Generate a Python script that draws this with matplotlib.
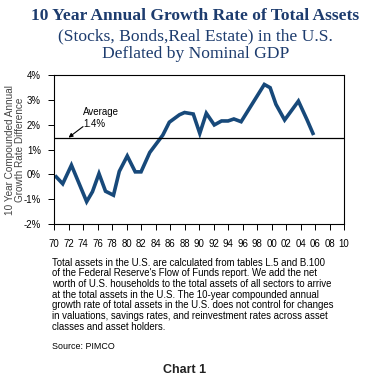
import matplotlib.pyplot as plt
from matplotlib.ticker import FixedLocator

# values (year, % difference)
years = [1970.3, 1971.2, 1972.4, 1974.5, 1975.3, 1976.2, 1977.1, 1978.2, 1979.0,
         1980.1, 1981.2, 1982.0, 1983.2, 1985.0, 1985.9, 1987.3, 1988.0, 1989.2,
         1990.1, 1991.0, 1992.1, 1993.1, 1994.0, 1994.8, 1995.8, 1999.0, 1999.8,
         2000.6, 2001.8, 2003.7, 2004.9, 2005.7]
growth = [-0.10, -0.38, 0.37, -1.10, -0.70, 0.03, -0.68, -0.84, 0.12,
          0.74, 0.10, 0.10, 0.88, 1.58, 2.10, 2.40, 2.49, 2.43,
          1.65, 2.46, 1.99, 2.15, 2.15, 2.23, 2.12, 3.62, 3.49,
          2.82, 2.19, 2.95, 2.19, 1.65]
average = 1.48
x_ticks = list(range(1970, 2011, 2))
x_labels = ["%02d" % (y % 100) for y in x_ticks]
y_ticks = [-2, -1, 0, 1, 2, 3, 4]
y_labels = ["%d%%" % v for v in y_ticks]

navy = "#17497a"
title_col = "#1d3c6e"
sans = "Liberation Sans"
serif = "Liberation Serif"

fig = plt.figure(figsize=(3.7, 3.82), dpi=100)
ax = fig.add_axes([0.146, 0.4136, 0.784, 0.39])

ax.plot(years, growth, color=navy, lw=2.6, solid_joinstyle="miter")
ax.axhline(average, color="black", lw=0.9)

ax.annotate("Average\n1.4%", xy=(1972.0, average), xytext=(1974.0, 2.72),
            fontsize=7, family=sans, va="top", ha="left", linespacing=1.25,
            arrowprops=dict(arrowstyle="-|>", color="black", lw=0.8,
                            mutation_scale=6, shrinkA=0, shrinkB=0,
                            patchA=None, relpos=(0.0, 0.1)))

ax.set_xlim(1970, 2010)
ax.set_ylim(-2, 4)
ax.xaxis.set_major_locator(FixedLocator(x_ticks))
ax.set_xticklabels(x_labels)
ax.yaxis.set_major_locator(FixedLocator(y_ticks))
ax.set_yticklabels(y_labels)
ax.tick_params(axis="both", direction="out", length=4.5, width=0.7, labelsize=6.9)
for lab in ax.get_xticklabels() + ax.get_yticklabels():
    lab.set_family(sans)
ax.tick_params(axis="x", pad=6)
ax.tick_params(axis="y", pad=5)
for sp in ax.spines.values():
    sp.set_linewidth(0.8)

ax.set_ylabel("10 Year Compounded Annual\nGrowth Rate Difference", fontsize=7.2,
              family=sans, color="#444444", linespacing=1.05, labelpad=-1)

fig.text(0.528, 0.958, "10 Year Annual Growth Rate of Total Assets", ha="center",
         va="center", fontsize=12.6, weight="bold", family=serif, color=title_col)
fig.text(0.528, 0.906, "(Stocks, Bonds,Real Estate) in the U.S.", ha="center",
         va="center", fontsize=12.6, family=serif, color=title_col)
fig.text(0.528, 0.859, "Deflated by Nominal GDP", ha="center",
         va="center", fontsize=12.6, family=serif, color=title_col)

note = ("Total assets in the U.S. are calculated from tables L.5 and B.100\n"
        "of the Federal Reserve's Flow of Funds report. We add the net\n"
        "worth of U.S. households to the total assets of all sectors to arrive\n"
        "at the total assets in the U.S. The 10-year compounded annual\n"
        "growth rate of total assets in the U.S. does not control for changes\n"
        "in valuations, savings rates, and reinvestment rates across asset\n"
        "classes and asset holders.")
fig.text(0.14, 0.325, note, ha="left", va="top", fontsize=6.9, family=sans,
         linespacing=1.08)
fig.text(0.14, 0.092, "Source: PIMCO", ha="left", va="center", fontsize=6.4, family=sans)
fig.text(0.5, 0.031, "Chart 1", ha="center", va="center", fontsize=9,
         weight="bold", family=sans, color="#222222")

fig.savefig("out.png", dpi=100)
